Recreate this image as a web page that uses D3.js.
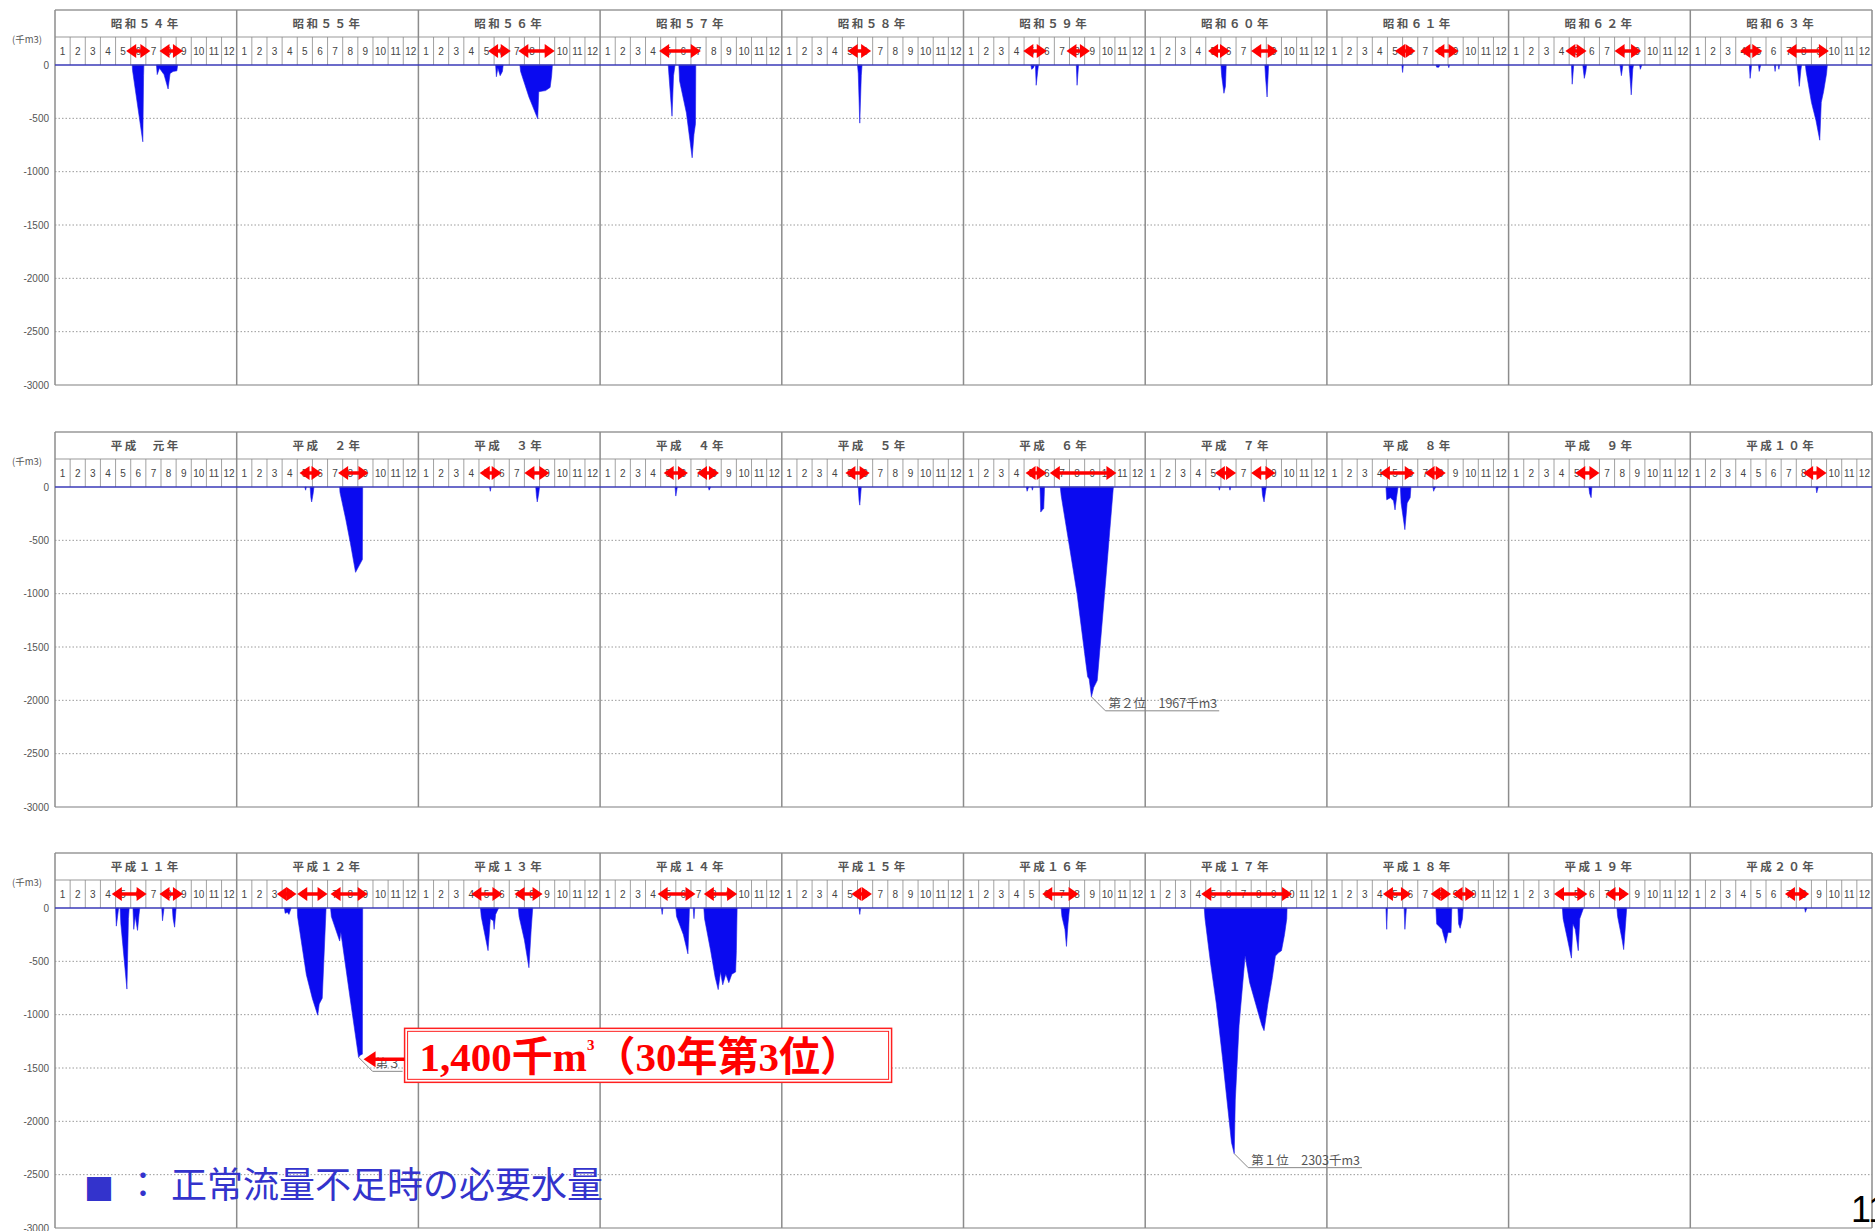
<!DOCTYPE html>
<html>
<head>
<meta charset="utf-8">
<script src="https://cdn.jsdelivr.net/npm/d3@7"></script>
<style>
  body { margin: 0; background: #fff; }
  text { font-family: "Noto Sans CJK JP", "Noto Sans", sans-serif; }
</style>
</head>
<body>
<svg id="chart"></svg>
<script>
// year headers of the three rows
const yearsShowa = ['昭和５４年','昭和５５年','昭和５６年','昭和５７年','昭和５８年','昭和５９年','昭和６０年','昭和６１年','昭和６２年','昭和６３年'];
const yearsHeiseiA = ['平成　元年','平成　２年','平成　３年','平成　４年','平成　５年','平成　６年','平成　７年','平成　８年','平成　９年','平成１０年'];
const yearsHeiseiB = ['平成１１年','平成１２年','平成１３年','平成１４年','平成１５年','平成１６年','平成１７年','平成１８年','平成１９年','平成２０年'];
const monthLabels = ['1','2','3','4','5','6','7','8','9','10','11','12'];
const yTicks = [0, -500, -1000, -1500, -2000, -2500, -3000];

// shortage (千m3) per year: list of runs, each run = [month position, value]
const shortageShowa = [
  [[[5.1,0],[5.12,-50],[5.8,-720],[5.85,-100],[5.87,0]],
   [[6.7,0],[6.75,-90],[6.9,-30],[7.05,-60],[7.2,-90],[7.47,-225],[7.6,-80],[7.8,-60],[8.05,-55],[8.1,0]]],
  [],
  [[[5.1,0],[5.15,-110],[5.25,-30],[5.4,-100],[5.55,-60],[5.6,0]],
   [[6.7,0],[6.75,-60],[7.3,-300],[7.88,-505],[7.95,-250],[8.4,-240],[8.7,-210],[8.8,-100],[8.85,0]]],
  [[[4.5,0],[4.55,-100],[4.75,-480],[4.85,-100],[4.95,0]],
   [[5.2,0],[5.25,-150],[5.7,-450],[6.08,-870],[6.2,-650],[6.3,-550],[6.32,0]]],
  [[[5.0,0],[5.05,-80],[5.15,-545],[5.25,-100],[5.3,0]]],
  [[[4.45,0],[4.5,-40],[4.6,-30],[4.7,0]],
   [[4.75,0],[4.8,-190],[4.9,-60],[4.95,0]],
   [[7.45,0],[7.5,-190],[7.6,0]]],
  [[[5.0,0],[5.05,-100],[5.2,-265],[5.3,-200],[5.35,0]],
   [[7.9,0],[7.95,-120],[8.05,-300],[8.15,0]]],
  [[[4.95,0],[5.0,-70],[5.05,0]],
   [[7.2,0],[7.25,-20],[7.4,-20],[7.45,0]],
   [[8.0,0],[8.05,-25],[8.1,0]]],
  [[[4.15,0],[4.2,-180],[4.3,0]],
   [[4.9,0],[5.0,-125],[5.1,-60],[5.15,0]],
   [[7.35,0],[7.45,-100],[7.55,0]],
   [[7.95,0],[8.0,-80],[8.1,-280],[8.2,-40],[8.25,0]],
   [[8.65,0],[8.7,-40],[8.8,0]]],
  [[[3.9,0],[3.95,-125],[4.05,0]],
   [[4.5,0],[4.55,-60],[4.65,0]],
   [[5.55,0],[5.6,-60],[5.65,0]],
   [[5.8,0],[5.85,-40],[5.9,0]],
   [[7.05,0],[7.1,-60],[7.2,-200],[7.3,-50],[7.35,0]],
   [[7.6,0],[7.65,-60],[8.0,-350],[8.3,-520],[8.55,-705],[8.65,-350],[8.8,-250],[9.0,-80],[9.05,0]]]
];
const shortageHeiseiA = [
  [],
  [[[4.5,0],[4.55,-30],[4.6,0]],
   [[4.85,0],[4.9,-100],[4.95,-140],[5.05,-60],[5.1,0]],
   [[6.8,0],[6.82,-50],[7.2,-300],[7.5,-520],[7.85,-800],[8.0,-760],[8.3,-680],[8.32,0]]],
  [[[4.7,0],[4.75,-40],[4.8,0]],
   [[7.75,0],[7.8,-90],[7.85,-140],[7.95,-60],[8.0,0]]],
  [[[4.95,0],[5.0,-85],[5.1,0]],
   [[7.15,0],[7.2,-30],[7.3,0]]],
  [[[5.05,0],[5.1,-120],[5.15,-170],[5.25,0]]],
  [[[4.15,0],[4.2,-40],[4.3,0]],
   [[4.5,0],[4.55,-30],[4.6,0]],
   [[5.05,0],[5.1,-235],[5.3,-200],[5.35,0]],
   [[6.39,0],[6.45,-80],[7.0,-560],[7.5,-1000],[8.0,-1560],[8.2,-1780],[8.3,-1800],[8.45,-1967],[8.6,-1880],[8.83,-1815],[8.89,-1720],[9.4,-860],[9.88,-30],[9.9,0]]],
  [[[4.85,0],[4.9,-30],[4.95,0]],
   [[5.55,0],[5.6,-30],[5.65,0]],
   [[7.7,0],[7.75,-80],[7.85,-140],[7.95,-40],[8.0,0]]],
  [[[3.9,0],[3.95,-120],[4.2,-100],[4.4,-130],[4.5,-215],[4.6,-100],[4.7,0]],
   [[4.85,0],[4.9,-150],[5.15,-400],[5.3,-150],[5.5,-100],[5.55,0]],
   [[7.0,0],[7.05,-40],[7.1,-20],[7.2,0]]],
  [[[5.3,0],[5.35,-60],[5.45,-100],[5.5,0]]],
  [[[8.3,0],[8.35,-55],[8.45,0]]]
];
const shortageHeiseiB = [
  [[[4.0,0],[4.05,-170],[4.15,-60],[4.2,0]],
   [[4.3,0],[4.35,-150],[4.75,-760],[4.85,-100],[4.9,0]],
   [[5.15,0],[5.2,-200],[5.3,-80],[5.45,-210],[5.55,-60],[5.6,0]],
   [[7.05,0],[7.1,-120],[7.2,0]],
   [[7.75,0],[7.8,-100],[7.9,-180],[8.0,0]]],
  [[[3.15,0],[3.2,-50],[3.35,-40],[3.45,-60],[3.6,0]],
   [[4.0,0],[4.02,-80],[4.6,-625],[5.0,-850],[5.35,-1005],[5.45,-900],[5.65,-845],[5.9,-10],[5.92,0]],
   [[6.2,0],[6.25,-80],[6.8,-310],[6.88,-230],[7.5,-855],[8.05,-1400],[8.15,-1380],[8.3,-1370],[8.32,0]]],
  [[[4.1,0],[4.15,-80],[4.6,-400],[4.75,-100],[4.95,-120],[5.0,-200],[5.1,-60],[5.3,0]],
   [[6.6,0],[6.65,-80],[7.0,-300],[7.3,-560],[7.45,-200],[7.55,0]]],
  [[[4.05,0],[4.1,-60],[4.15,0]],
   [[5.0,0],[5.05,-80],[5.5,-250],[5.8,-430],[5.88,-100],[5.9,0]],
   [[6.15,0],[6.2,-100],[6.25,0]],
   [[6.85,0],[6.9,-100],[7.3,-400],[7.6,-650],[7.8,-765],[7.95,-600],[8.1,-720],[8.3,-620],[8.5,-700],[8.7,-620],[8.95,-600],[9.0,-400],[9.05,0]]],
  [[[5.1,0],[5.15,-60],[5.2,0]]],
  [[[6.45,0],[6.5,-80],[6.7,-200],[6.8,-360],[6.9,-150],[7.0,0]]],
  [[[3.9,0],[3.95,-100],[4.3,-500],[4.7,-900],[5.1,-1400],[5.4,-1800],[5.7,-2200],[5.88,-2303],[5.95,-1800],[6.2,-1100],[6.6,-450],[6.9,-700],[7.3,-900],[7.7,-1100],[7.85,-1150],[8.1,-900],[8.4,-650],[8.6,-450],[8.8,-420],[9.0,-400],[9.2,-250],[9.35,-100],[9.37,0]]],
  [[[3.9,0],[3.95,-200],[4.0,0]],
   [[5.1,0],[5.15,-200],[5.25,0]],
   [[7.2,0],[7.25,-150],[7.6,-200],[7.85,-330],[8.0,-230],[8.2,-230],[8.25,0]],
   [[8.65,0],[8.7,-150],[8.8,-190],[8.95,-100],[9.0,0]]],
  [[[3.55,0],[3.6,-100],[3.9,-300],[4.15,-470],[4.25,-150],[4.4,-200],[4.6,-400],[4.7,-100],[4.95,0]],
   [[7.15,0],[7.2,-80],[7.5,-300],[7.6,-390],[7.75,-100],[7.8,0]]],
  [[[7.55,0],[7.6,-40],[7.7,0]]]
];

// red double arrows: [start month, end month]
const periodsShowa = [
  [[4.7,6.3],[6.9,8.45]], [], [[4.6,6.1],[6.6,9.0]], [[3.9,6.65]], [[4.35,5.9]],
  [[3.95,5.5],[6.8,8.35]], [[4.15,5.6],[7.0,8.75]], [[4.5,5.85],[7.1,8.7]],
  [[3.75,5.15],[7.0,8.75]], [[3.3,4.75],[6.35,9.15]]
];
const periodsHeiseiA = [
  [], [[4.15,5.6],[6.7,8.7]], [[4.05,5.5],[7.0,8.65]], [[4.2,5.8],[6.4,7.85]], [[4.2,5.8]],
  [[4.1,5.5],[5.7,10.1]], [[4.6,6.0],[7.0,8.6]], [[3.5,5.8],[6.45,7.85]], [[4.4,6.0]], [[7.45,9.0]]
];
const periodsHeiseiB = [
  [[3.75,6.05],[6.9,8.45]], [[2.65,3.95],[4.0,6.0],[6.2,8.65]], [[3.5,5.55],[6.35,8.2]],
  [[3.8,6.3],[6.85,9.05]], [[4.6,5.95]], [[5.2,7.6]], [[3.7,9.7]],
  [[3.7,5.55],[6.85,8.2],[8.3,9.8]], [[3.0,5.2],[6.4,7.95]], [[6.25,7.85]]
];

// ranked peaks: [row, year index, month, value, label]
const peakNotes = [
  [1, 5, 8.45, -1967, '第２位　1967千m3'],
  [2, 6, 5.88, -2303, '第１位　2303千m3'],
  [2, 1, 8.05, -1400, '第３']
];

const rows = [
  { years: yearsShowa, shortage: shortageShowa, periods: periodsShowa, top: 10 },
  { years: yearsHeiseiA, shortage: shortageHeiseiA, periods: periodsHeiseiA, top: 432 },
  { years: yearsHeiseiB, shortage: shortageHeiseiB, periods: periodsHeiseiB, top: 853 }
];

const W = 1875, H = 1231;
const svg = d3.select('#chart').attr('width', W).attr('height', H);
svg.append('rect').attr('width', W).attr('height', H).attr('fill', '#fff');

const x = d3.scaleLinear().domain([0, 120]).range([55, 1872]);
const mw = x(1) - x(0);
const headH = 27, monthH = 28;

const yScales = [];

rows.forEach((row, ri) => {
  const top = row.top, zero = top + headH + monthH;
  const y = d3.scaleLinear().domain([0, -3000]).range([zero, zero + 320]);
  yScales.push(y);
  const g = svg.append('g');

  // dotted grid
  g.selectAll('.grid').data(yTicks.slice(1, -1)).enter().append('line')
    .attr('x1', x(0)).attr('x2', x(120))
    .attr('y1', d => y(d)).attr('y2', d => y(d))
    .attr('stroke', '#9a9a9a').attr('stroke-width', 1).attr('stroke-dasharray', '1.5,2');

  // y axis labels
  const ax = g.append('g').attr('transform', `translate(${x(0) - 4},0)`)
    .call(d3.axisLeft(y).tickValues(yTicks).tickSize(0).tickPadding(2).tickFormat(d => d));
  ax.select('.domain').remove();
  ax.selectAll('text').attr('font-size', 10).attr('fill', '#555')
    .style('font-family', '"Liberation Sans", Arial, sans-serif');

  g.append('text').attr('x', 12).attr('y', top + headH + 6)
    .attr('font-size', 9.5).attr('fill', '#555').text('(千m3)');

  // shortage areas
  const area = d3.area()
    .x(d => x(d.yi * 12 + d.m))
    .y0(y(0))
    .y1(d => y(d.v));
  row.shortage.forEach((runs, yi) => {
    runs.forEach(run => {
      g.append('path')
        .datum(run.map(p => ({ yi, m: p[0], v: p[1] })))
        .attr('d', area)
        .attr('fill', '#0a0af0')
        .attr('stroke', '#2020e8').attr('stroke-width', 0.6);
    });
  });

  // frame lines
  g.append('line').attr('x1', x(0)).attr('x2', x(120)).attr('y1', top).attr('y2', top)
    .attr('stroke', '#999').attr('stroke-width', 1.5);
  g.append('line').attr('x1', x(0)).attr('x2', x(120)).attr('y1', top + headH).attr('y2', top + headH)
    .attr('stroke', '#999').attr('stroke-width', 1);
  g.append('line').attr('x1', x(0)).attr('x2', x(120)).attr('y1', y(-3000)).attr('y2', y(-3000))
    .attr('stroke', '#aaa').attr('stroke-width', 1.5);

  // month cells
  const months = d3.range(120);
  g.selectAll('.mtick').data(months.filter(d => d % 12 !== 0)).enter().append('line')
    .attr('x1', d => x(d)).attr('x2', d => x(d))
    .attr('y1', top + headH).attr('y2', zero)
    .attr('stroke', '#8a8a8a').attr('stroke-width', 0.8);
  g.selectAll('.mlab').data(months).enter().append('text')
    .attr('x', d => x(d) + mw / 2).attr('y', top + headH + 18)
    .attr('text-anchor', 'middle').attr('font-size', 10).attr('fill', '#444')
    .style('font-family', '"Liberation Sans", Arial, sans-serif')
    .text(d => monthLabels[d % 12]);

  // year separators
  g.selectAll('.ysep').data(d3.range(11)).enter().append('line')
    .attr('x1', d => x(d * 12)).attr('x2', d => x(d * 12))
    .attr('y1', top).attr('y2', y(-3000))
    .attr('stroke', '#8c8c8c').attr('stroke-width', 1.5);

  // year names
  g.selectAll('.yname').data(row.years).enter().append('text')
    .attr('x', (d, i) => x(i * 12 + 6)).attr('y', top + 18)
    .attr('text-anchor', 'middle').attr('font-size', 11.5).attr('font-weight', 'bold')
    .attr('fill', '#555').attr('letter-spacing', 2.5)
    .text(d => d);

  // zero line
  g.append('line').attr('x1', x(0)).attr('x2', x(120)).attr('y1', zero).attr('y2', zero)
    .attr('stroke', '#3a3ab8').attr('stroke-width', 1.5);

  // red double arrows
  const ay = top + headH + monthH / 2;
  row.periods.forEach((list, yi) => {
    list.forEach(pr => {
      const x0 = x(yi * 12 + pr[0]), x1 = x(yi * 12 + pr[1]);
      g.append('line').attr('x1', x0 + 6).attr('x2', x1 - 6).attr('y1', ay).attr('y2', ay)
        .attr('stroke', '#ff0000').attr('stroke-width', 3.5);
      g.append('path').attr('d', `M${x0},${ay}L${x0 + 10},${ay - 7}L${x0 + 10},${ay + 7}Z`).attr('fill', '#ff0000');
      g.append('path').attr('d', `M${x1},${ay}L${x1 - 10},${ay - 7}L${x1 - 10},${ay + 7}Z`).attr('fill', '#ff0000');
    });
  });
});

// ranked peak labels
peakNotes.forEach(n => {
  const y = yScales[n[0]];
  const px = x(n[1] * 12 + n[2]), py = y(n[3]);
  const t = svg.append('text').attr('x', px + 17).attr('y', py + 11)
    .attr('font-size', 12.5).attr('fill', '#555').text(n[4]);
  const tw = t.node().getComputedTextLength();
  svg.append('path')
    .attr('d', `M${px},${py}L${px + 14},${py + 14}L${px + 19 + tw},${py + 14}`)
    .attr('fill', 'none').attr('stroke', '#888').attr('stroke-width', 1);
});

// callout for the 3rd ranked year
{
  const n = peakNotes[2];
  const px = x(n[1] * 12 + n[2]), py = yScales[n[0]](n[3]);
  const bx = px + 46, by = py - 29, bw = 487, bh = 54;
  svg.append('rect').attr('x', bx).attr('y', by).attr('width', bw).attr('height', bh)
    .attr('fill', '#fff').attr('stroke', '#ff2020').attr('stroke-width', 1.5);
  svg.append('rect').attr('x', bx + 3).attr('y', by + 3).attr('width', bw - 6).attr('height', bh - 6)
    .attr('fill', 'none').attr('stroke', '#ff2020').attr('stroke-width', 1);
  svg.append('line').attr('x1', bx).attr('x2', px + 14).attr('y1', py + 2).attr('y2', py + 2)
    .attr('stroke', '#ff0000').attr('stroke-width', 3.5);
  svg.append('path').attr('d', `M${px + 5},${py + 2}L${px + 17},${py - 6}L${px + 17},${py + 10}Z`).attr('fill', '#ff0000');
  const txt = svg.append('text').attr('x', bx + 15).attr('y', by + 43)
    .attr('font-size', 41).attr('font-weight', 'bold').attr('fill', '#ff0000')
    .style('font-family', '"Liberation Serif", "Noto Sans CJK JP", serif');
  txt.append('tspan').text('1,400千m');
  txt.append('tspan').attr('font-size', 15).attr('dy', -21).text('3');
  txt.append('tspan').attr('dy', 21).text('（30年第3位）');
}

// legend
svg.append('text').attr('x', 84).attr('y', 1200).attr('font-size', 30).attr('fill', '#3333cc').text('■');
svg.append('text').attr('x', 125).attr('y', 1198).attr('font-size', 36).attr('fill', '#3333cc').text('：');
svg.append('text').attr('x', 171).attr('y', 1198).attr('font-size', 36).attr('fill', '#3333cc').text('正常流量不足時の必要水量');

// page number
svg.append('text').attr('x', 1851).attr('y', 1222).attr('font-size', 36).attr('fill', '#000')
  .style('font-family', '"Liberation Sans", Arial, sans-serif').text('11');
</script>
</body>
</html>
